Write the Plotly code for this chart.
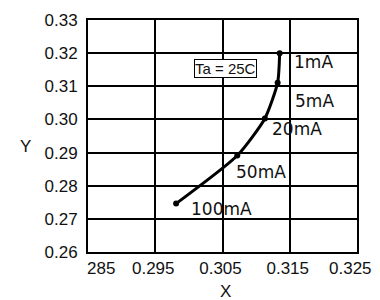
import plotly.graph_objects as go

# Data
currents = ["1mA", "5mA", "20mA", "50mA", "100mA"]
x_vals = [0.3135, 0.3132, 0.3113, 0.3072, 0.2981]
y_vals = [0.3200, 0.3111, 0.3003, 0.2891, 0.2746]
x_tick_vals = [0.285, 0.295, 0.305, 0.315, 0.325]
x_tick_text = ["285", "0.295", "0.305", "0.315", "0.325"]
y_tick_vals = [0.26, 0.27, 0.28, 0.29, 0.30, 0.31, 0.32, 0.33]
y_tick_text = ["0.26", "0.27", "0.28", "0.29", "0.30", "0.31", "0.32", "0.33"]
condition = "Ta = 25C"

FONT = "Liberation Sans, Arial, sans-serif"
LFONT = "DejaVu Sans, sans-serif"
TXT = "#111"

fig = go.Figure()
fig.add_trace(go.Scatter(
    x=x_vals, y=y_vals, mode="lines+markers",
    line=dict(color="black", width=3, shape="spline", smoothing=0.6),
    marker=dict(color="black", size=6),
    hoverinfo="skip", showlegend=False,
))

# point label offsets in pixels (right, down)
label_offsets = {
    "1mA": (12, 9), "5mA": (15, 18), "20mA": (5, 11), "50mA": (-3, 16), "100mA": (13, 5),
}
for cur, xv, yv in zip(currents, x_vals, y_vals):
    dx, dy = label_offsets[cur]
    fig.add_annotation(x=xv, y=yv, text=cur, showarrow=False,
                       xanchor="left", yanchor="middle",
                       xshift=dx, yshift=-dy,
                       font=dict(family=LFONT, size=17, color=TXT))

fig.add_annotation(x=0.3055, y=0.3155, text=condition, showarrow=False,
                   font=dict(family=FONT, size=15, color=TXT),
                   bordercolor="black", borderwidth=1, borderpad=0,
                   bgcolor="white")

# edge x tick labels (first clipped, last pulled inside)
fig.add_annotation(x=x_tick_vals[0], y=0, yref="paper", text=x_tick_text[0],
                   showarrow=False, xanchor="left", yanchor="top", yshift=-5,
                   xshift=-3,
                   font=dict(family=FONT, size=17, color=TXT))
fig.add_annotation(x=x_tick_vals[-1], y=0, yref="paper", text=x_tick_text[-1],
                   showarrow=False, xanchor="right", yanchor="top", yshift=-5,
                   xshift=17,
                   font=dict(family=FONT, size=17, color=TXT))

# axis titles (horizontal)
fig.add_annotation(xref="paper", yref="paper", x=-0.234, y=0.453, text="Y",
                   showarrow=False, xanchor="center", yanchor="middle",
                   font=dict(family=FONT, size=17, color=TXT))
fig.add_annotation(xref="paper", yref="paper", x=0.513, y=-0.172, text="X",
                   showarrow=False, xanchor="center", yanchor="middle",
                   font=dict(family=FONT, size=17, color=TXT))

fig.update_xaxes(
    range=[x_tick_vals[0], x_tick_vals[-1]],
    tickvals=x_tick_vals[1:-1], ticktext=x_tick_text[1:-1],
    showgrid=True, gridcolor="black", gridwidth=2,
    showline=True, linecolor="black", linewidth=2, mirror=True,
    ticks="", zeroline=False, automargin=False, ticklabelshift=-2,
    tickfont=dict(family=FONT, size=17, color=TXT),
)
fig.update_yaxes(
    range=[y_tick_vals[0], y_tick_vals[-1]],
    tickvals=y_tick_vals, ticktext=y_tick_text,
    showgrid=True, gridcolor="black", gridwidth=2,
    showline=True, linecolor="black", linewidth=2, mirror=True,
    ticks="", zeroline=False, automargin=False, ticklabelstandoff=5,
    tickfont=dict(family=FONT, size=17, color=TXT),
)
fig.update_layout(
    width=372, height=292,
    margin=dict(l=80, r=23, t=12, b=48),
    paper_bgcolor="white", plot_bgcolor="white",
)
fig.write_html("out.html")
